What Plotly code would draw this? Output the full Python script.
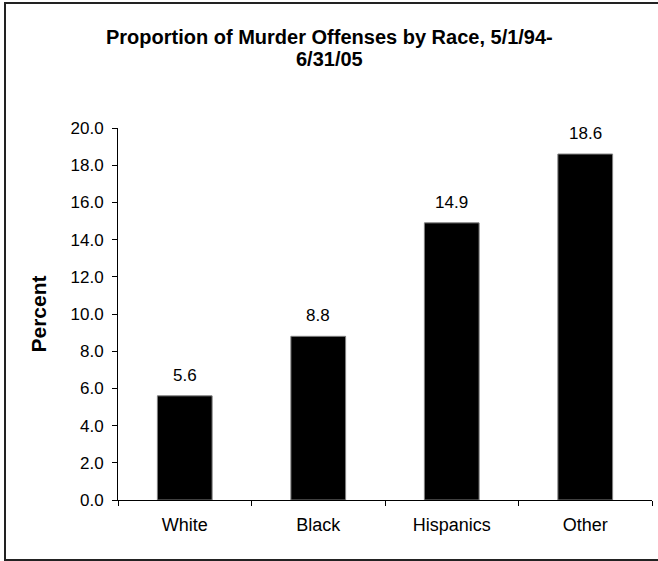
import plotly.graph_objects as go

# Murder offense proportions by race
categories = ["White", "Black", "Hispanics", "Other"]
percent = [5.6, 8.8, 14.9, 18.6]
y_ticks = [0, 2, 4, 6, 8, 10, 12, 14, 16, 18, 20]
title_lines = ["Proportion of Murder Offenses by Race, 5/1/94-", "6/31/05"]

W, H = 658, 561
L, R, T, B = 118, 6, 128, 61
plot_w = W - L - R
plot_h = H - T - B

font = "Liberation Sans, Arial, sans-serif"


def px_x(px):
    return (px - L) / plot_w


def px_y(py):
    return (H - B - py) / plot_h


fig = go.Figure(
    go.Bar(
        x=categories,
        y=percent,
        marker=dict(color="black", line=dict(color="#808080", width=1)),
        width=0.41,
        showlegend=False,
    )
)

# value labels above each bar
for c, v in zip(categories, percent):
    fig.add_annotation(
        x=c, y=v, text=f"{v:.1f}", showarrow=False,
        yanchor="bottom", yshift=9,
        font=dict(family=font, size=17, color="black"),
    )

# two-line bold title, centred on the whole chart
for line, py in zip(title_lines, [37, 59]):
    fig.add_annotation(
        xref="paper", yref="paper", x=px_x(W / 2), y=px_y(py),
        xanchor="center", yanchor="middle", showarrow=False,
        text=f"<b>{line}</b>",
        font=dict(family=font, size=20, color="black"),
    )

# chart-area frame
fig.add_shape(
    type="rect", xref="paper", yref="paper",
    x0=px_x(5), x1=px_x(680), y0=px_y(560), y1=px_y(3),
    line=dict(color="#222222", width=2), fillcolor="rgba(0,0,0,0)",
    layer="below",
)

fig.update_layout(
    width=W, height=H,
    margin=dict(l=L, r=R, t=T, b=B),
    paper_bgcolor="white", plot_bgcolor="white",
    xaxis=dict(
        showline=True, linecolor="black", linewidth=1,
        ticks="outside", ticklen=5, tickcolor="black",
        tickson="boundaries",
        showgrid=False, zeroline=False,
        ticklabelstandoff=8,
        tickfont=dict(family=font, size=18, color="black"),
        range=[-0.5, 3.5],
    ),
    yaxis=dict(
        range=[0, 20],
        tickvals=y_ticks,
        tickformat=".1f",
        showline=True, linecolor="black", linewidth=1,
        ticks="outside", ticklen=5, tickcolor="black",
        showgrid=False, zeroline=False,
        ticklabelstandoff=5,
        tickfont=dict(family=font, size=17, color="black"),
        title=dict(text="<b>Percent</b>", standoff=18,
                   font=dict(family=font, size=21, color="black")),
    ),
)

fig.write_html("out.html")
